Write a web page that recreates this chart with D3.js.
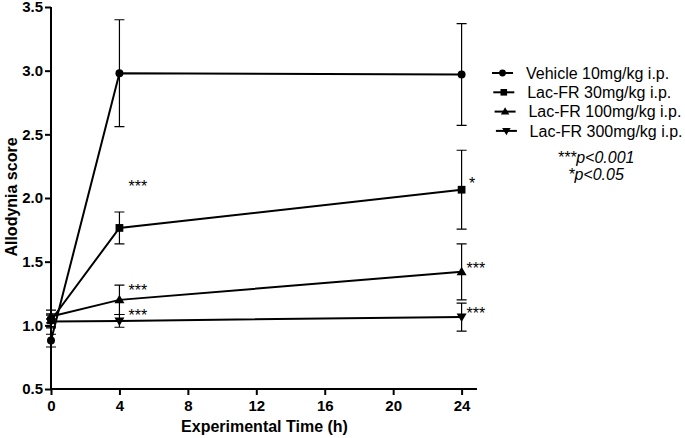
<!DOCTYPE html>
<html><head><meta charset="utf-8">
<script src="https://cdn.jsdelivr.net/npm/d3@7"></script>
<style>body{margin:0;background:#fff}svg{display:block;font-family:"Liberation Sans",Arial,sans-serif}</style>
</head><body><svg id="c" width="685" height="438"></svg>
<script>
const times = [0, 4, 24];
const seriesNames = ["Vehicle 10mg/kg i.p.", "Lac-FR 30mg/kg i.p.", "Lac-FR 100mg/kg i.p.", "Lac-FR 300mg/kg i.p."];
const vehicleMean = [0.88, 2.98, 2.97];
const vehicleErr  = [0.05, 0.42, 0.40];
const lac30Mean   = [1.04, 1.765, 2.065];
const lac30Err    = [0.05, 0.125, 0.31];
const lac100Mean  = [1.07, 1.20, 1.42];
const lac100Err   = [0.05, 0.115, 0.22];
const lac300Mean  = [1.03, 1.035, 1.065];
const lac300Err   = [0.05, 0.05, 0.11];
const sig4  = ["", "***", "***", "***"];
const sig24 = ["", "*", "***", "***"];
const xTicks = [0, 4, 8, 12, 16, 20, 24];
const yTicks = [0.5, 1.0, 1.5, 2.0, 2.5, 3.0, 3.5];
const noteLines = ["***p<0.001", "*p<0.05"];

const series = [
  {name: seriesNames[0], mean: vehicleMean, err: vehicleErr, sym: "circle"},
  {name: seriesNames[1], mean: lac30Mean, err: lac30Err, sym: "square"},
  {name: seriesNames[2], mean: lac100Mean, err: lac100Err, sym: "up"},
  {name: seriesNames[3], mean: lac300Mean, err: lac300Err, sym: "down"}
];
// label placement offsets (px) relative to the data point
const sig4Off  = [[0,0], [9,-36], [9,-4], [9,0]];
const sig24Off = [[0,0], [7.5,-1], [5,2], [5,2]];

const svg = d3.select("#c");
const x = d3.scaleLinear().domain([0, 24]).range([51, 461.6]);
const y = d3.scaleLinear().domain([0.5, 3.5]).range([389, 7]);

function symPath(s){
  if (s === "circle") return d3.symbol(d3.symbolCircle, 50)();
  if (s === "square") return d3.symbol(d3.symbolSquare, 60)();
  if (s === "up") return "M0,-5L5,3.5L-5,3.5Z";
  return "M0,5L5,-3.5L-5,-3.5Z";
}

// axes
const gx = svg.append("g").attr("transform", "translate(0,389)")
  .call(d3.axisBottom(x).tickValues(xTicks).tickSize(6).tickPadding(5).tickFormat(d3.format("d")));
gx.select(".domain").attr("d", "M51,0H477").attr("stroke-width", 2);
const gy = svg.append("g").attr("transform", "translate(51,0)")
  .call(d3.axisLeft(y).tickValues(yTicks).tickSize(6).tickPadding(2).tickFormat(d3.format(".1f")));
gy.select(".domain").attr("d", "M0,7V389").attr("stroke-width", 2);
[gx, gy].forEach(g => {
  g.selectAll(".tick line").attr("stroke-width", 2).attr("stroke", "#000");
  g.selectAll(".tick text").attr("font-size", 15).attr("font-weight", "bold").attr("fill", "#000")
   .attr("font-family", "'Liberation Sans',Arial,sans-serif");
  g.select(".domain").attr("stroke", "#000");
});

svg.append("text").attr("x", 264.5).attr("y", 432).attr("text-anchor", "middle")
  .attr("font-size", 16).attr("font-weight", "bold").text("Experimental Time (h)");
svg.append("text").attr("transform", "translate(17,197) rotate(-90)").attr("text-anchor", "middle")
  .attr("font-size", 16).attr("font-weight", "bold").text("Allodynia score");

// error bars, lines, markers
const line = d3.line().x((d, i) => x(times[i])).y(d => y(d));
series.forEach(s => {
  s.mean.forEach((m, i) => {
    const cx = x(times[i]);
    const top = y(m + s.err[i]), bot = y(m - s.err[i]);
    svg.append("path").attr("d", `M${cx},${top}V${bot}M${cx-5},${top}H${cx+5}M${cx-5},${bot}H${cx+5}`)
      .attr("stroke", "#000").attr("stroke-width", 1.2).attr("fill", "none");
  });
  svg.append("path").attr("d", line(s.mean)).attr("stroke", "#000").attr("stroke-width", 2).attr("fill", "none");
  s.mean.forEach((m, i) => {
    svg.append("path").attr("d", symPath(s.sym)).attr("transform", `translate(${x(times[i])},${y(m)})`).attr("fill", "#000");
  });
});

// significance marks
series.forEach((s, k) => {
  if (sig4[k]) svg.append("text").attr("x", x(4) + sig4Off[k][0]).attr("y", y(s.mean[1]) + sig4Off[k][1])
    .attr("font-size", 16).text(sig4[k]);
  if (sig24[k]) svg.append("text").attr("x", x(24) + sig24Off[k][0]).attr("y", y(s.mean[2]) + sig24Off[k][1])
    .attr("font-size", 16).text(sig24[k]);
});

// legend
const leg = svg.append("g");
series.forEach((s, k) => {
  const cy = 73 + k * 19.3;
  const lx = 492 + k * 1.3;
  leg.append("path").attr("d", `M${lx},${cy}H${lx+21}`).attr("stroke", "#000").attr("stroke-width", 2);
  leg.append("path").attr("d", symPath(s.sym)).attr("transform", `translate(${lx+10.5},${cy}) scale(0.85)`).attr("fill", "#000");
  leg.append("text").attr("x", 526 + k * 1.2).attr("y", cy + 5.8).attr("font-size", 16).text(s.name);
});
noteLines.forEach((t, i) => {
  const m = t.match(/^(\*+)(.*)$/);
  const tx = leg.append("text").attr("x", 596).attr("y", 163 + i * 17).attr("text-anchor", "middle")
    .attr("font-size", 16).attr("font-style", "italic");
  tx.append("tspan").text(m[1]);
  tx.append("tspan").text(m[2]);
});
</script></body></html>
